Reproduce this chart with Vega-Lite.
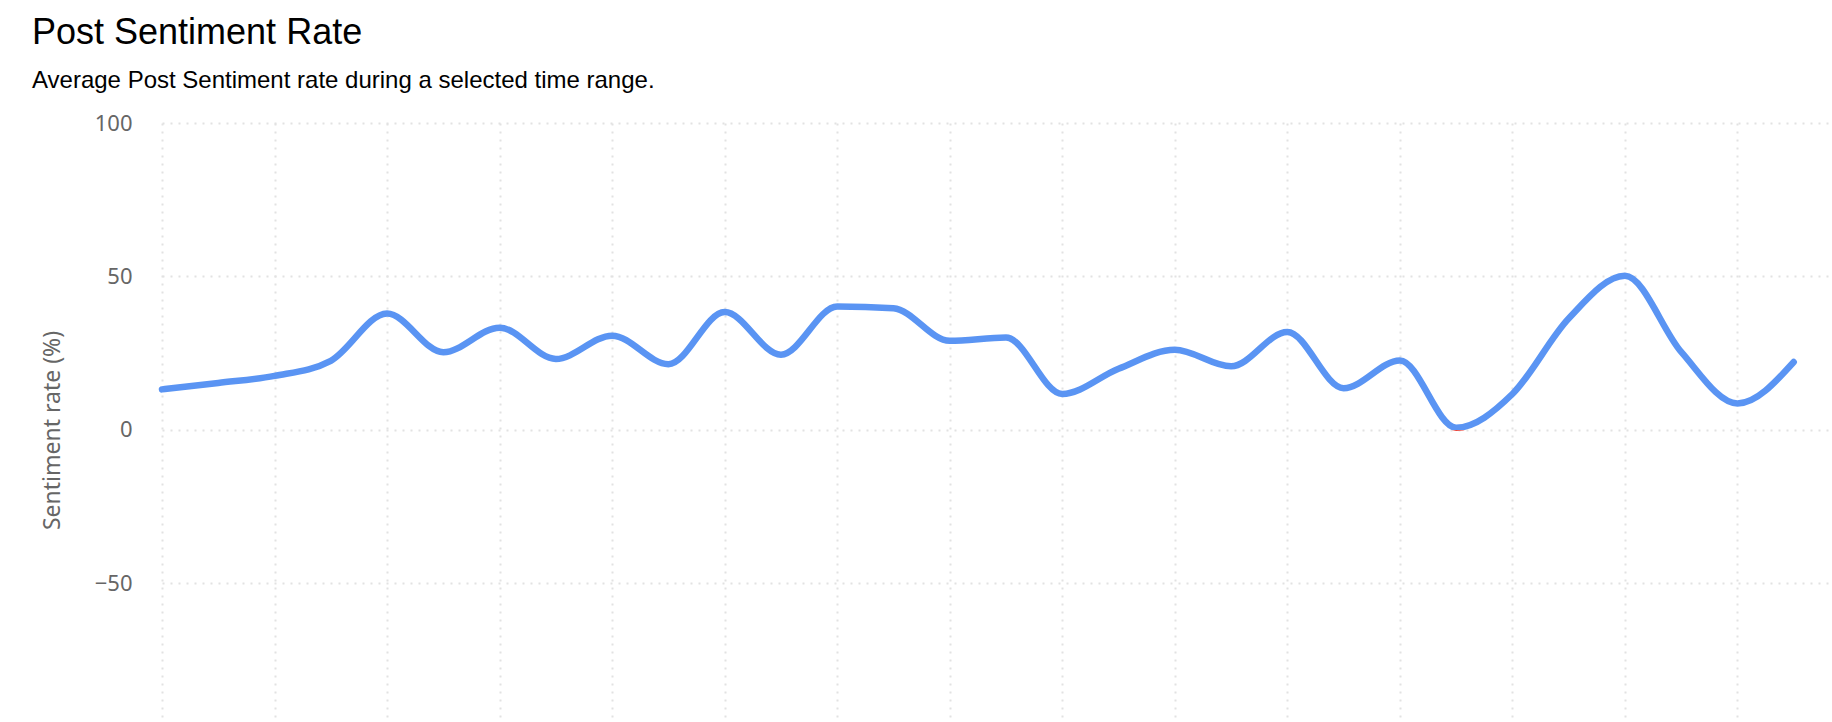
{
  "$schema": "https://vega.github.io/schema/vega-lite/v6.json",
  "autosize": {"type": "none"},
  "padding": {"left": 162, "top": 123, "right": 0, "bottom": 0},
  "width": 1670,
  "height": 599,
  "background": "white",
  "view": {"stroke": null},
  "title": {
    "text": "Post Sentiment Rate",
    "subtitle": "Average Post Sentiment rate during a selected time range.",
    "anchor": "start",
    "frame": "group",
    "font": "Liberation Sans",
    "fontSize": 36,
    "fontWeight": "normal",
    "color": "#000000",
    "subtitleFont": "Liberation Sans",
    "subtitleFontSize": 24,
    "subtitleColor": "#000000",
    "subtitlePadding": 17,
    "dx": -130,
    "offset": 18
  },
  "data": {
    "values": [
      {"t": 0, "rate": 13.2},
      {"t": 0.5, "rate": 15.3},
      {"t": 1, "rate": 17.6},
      {"t": 1.5, "rate": 22.5},
      {"t": 2, "rate": 37.9},
      {"t": 2.5, "rate": 25.3},
      {"t": 3, "rate": 33.3},
      {"t": 3.5, "rate": 23.1},
      {"t": 4, "rate": 30.7},
      {"t": 4.5, "rate": 21.4},
      {"t": 5, "rate": 38.4},
      {"t": 5.5, "rate": 24.5},
      {"t": 6, "rate": 40.2},
      {"t": 6.5, "rate": 39.6},
      {"t": 7, "rate": 29.0},
      {"t": 7.5, "rate": 30.1},
      {"t": 8, "rate": 11.7},
      {"t": 8.5, "rate": 19.9},
      {"t": 9, "rate": 26.1},
      {"t": 9.5, "rate": 20.7},
      {"t": 10, "rate": 31.9},
      {"t": 10.5, "rate": 13.6},
      {"t": 11, "rate": 22.6},
      {"t": 11.5, "rate": 0.7},
      {"t": 12, "rate": 11.7},
      {"t": 12.5, "rate": 36.3},
      {"t": 13, "rate": 50.2},
      {"t": 13.5, "rate": 25.4},
      {"t": 14, "rate": 8.6},
      {"t": 14.5, "rate": 22.1}
    ]
  },
  "mark": {
    "type": "line",
    "interpolate": "monotone",
    "strokeWidth": 6.5,
    "strokeCap": "round",
    "strokeJoin": "round",
    "stroke": {
      "gradient": "linear",
      "x1": 0, "y1": 0, "x2": 0, "y2": 1.1,
      "stops": [
        {"offset": 0, "color": "#5a94f3"},
        {"offset": 0.921, "color": "#5a94f3"},
        {"offset": 0.923, "color": "#e8453c"},
        {"offset": 1, "color": "#e8453c"}
      ]
    }
  },
  "encoding": {
    "x": {
      "field": "t",
      "type": "quantitative",
      "scale": {"domain": [0, 14.84], "nice": false, "zero": false},
      "axis": {
        "values": [0, 1, 2, 3, 4, 5, 6, 7, 8, 9, 10, 11, 12, 13, 14],
        "labels": false,
        "ticks": false,
        "domain": false,
        "title": null,
        "grid": true,
        "gridColor": "#e2e2e2",
        "gridDash": [2, 6],
        "gridWidth": 2
      }
    },
    "y": {
      "field": "rate",
      "type": "quantitative",
      "scale": {"domain": [-95.2, 100], "nice": false, "zero": false},
      "axis": {
        "values": [-50, 0, 50, 100],
        "ticks": false,
        "domain": false,
        "grid": true,
        "gridColor": "#e2e2e2",
        "gridDash": [2, 6],
        "gridWidth": 2,
        "labelFont": "Noto Sans",
        "labelFontSize": 22,
        "labelColor": "#666666",
        "labelPadding": 30,
        "title": "Sentiment rate (%)",
        "titleFont": "Noto Sans",
        "titleFontSize": 23,
        "titleFontWeight": "normal",
        "titleColor": "#666666",
        "titleBaseline": "alphabetic",
        "titleX": -102.7,
        "titleY": 307
      }
    }
  }
}
